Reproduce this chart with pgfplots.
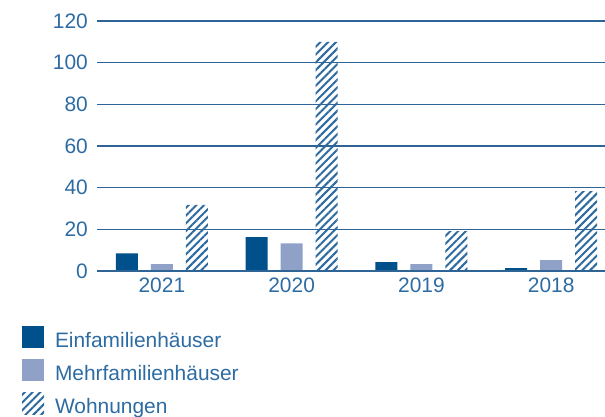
\documentclass[border=0pt]{standalone}
\usepackage{pgfplots}
\pgfplotsset{compat=1.18}
\usepackage{fontspec}
\setmainfont{Liberation Sans}
\usetikzlibrary{patterns.meta}
\definecolor{txtblue}{HTML}{2D6BA3}
\definecolor{gridblue}{HTML}{2F6496}
\definecolor{darkbar}{HTML}{00508C}
\definecolor{lightbar}{HTML}{8FA1C7}
\definecolor{hatchblue}{HTML}{2D6AA0}
\begin{document}
\begin{tikzpicture}
\begin{axis}[
  scale only axis,
  width=508bp, height=250bp,
  xmin=-0.50, xmax=3.415,
  ymin=0, ymax=120,
  ytick={0,20,...,120},
  xtick={0,1,2,3},
  xticklabels={2021,2020,2019,2018},
  axis line style={draw=none},
  major tick length=0pt,
  ymajorgrids,
  grid style={gridblue, line width=1.5bp},
  axis on top,
  ybar, bar width=22bp,
  font=\fontsize{21}{25}\selectfont,
  tick label style={text=txtblue, font=\fontsize{21}{25}\selectfont},
  /pgf/number format/assume math mode=true,
  yticklabel style={anchor=east, inner sep=0pt, xshift=-9bp},
  xticklabel style={anchor=north, inner sep=0pt, yshift=-7bp},
  legend style={at={(axis description cs:-0.148,-0.22)}, anchor=north west,
    draw=none, fill=none, inner sep=0pt, row sep=6bp,
    font=\fontsize{21}{25}\selectfont, text=txtblue,
    nodes={inner sep=0pt, text height=16bp, text depth=6bp},
    /tikz/every odd column/.append style={column sep=11bp}},
  legend cell align=left,
  legend image code/.code={\path[#1,draw=none] (0bp,-6bp) rectangle (22bp,16bp);},
]
\addplot[fill=darkbar, draw=none, bar shift=-35bp] coordinates {(0,8.5) (1,16.3) (2,4.3) (3,1.4)};
\addlegendentry{Einfamilienhäuser}
\addplot[fill=lightbar, draw=none, bar shift=0bp] coordinates {(0,3.3) (1,13.3) (2,3.3) (3,5.2)};
\addlegendentry{Mehrfamilienhäuser}
\addplot[draw=none, pattern={Lines[angle=45,distance=5.5bp,line width=2bp]}, pattern color=hatchblue, bar shift=35bp] coordinates {(0,31.8) (1,110) (2,19.2) (3,38.4)};
\addlegendentry{Wohnungen}
\end{axis}
\pgfresetboundingbox
\useasboundingbox (-97bp,-146bp) rectangle (508bp,271bp);
\end{tikzpicture}
\end{document}
